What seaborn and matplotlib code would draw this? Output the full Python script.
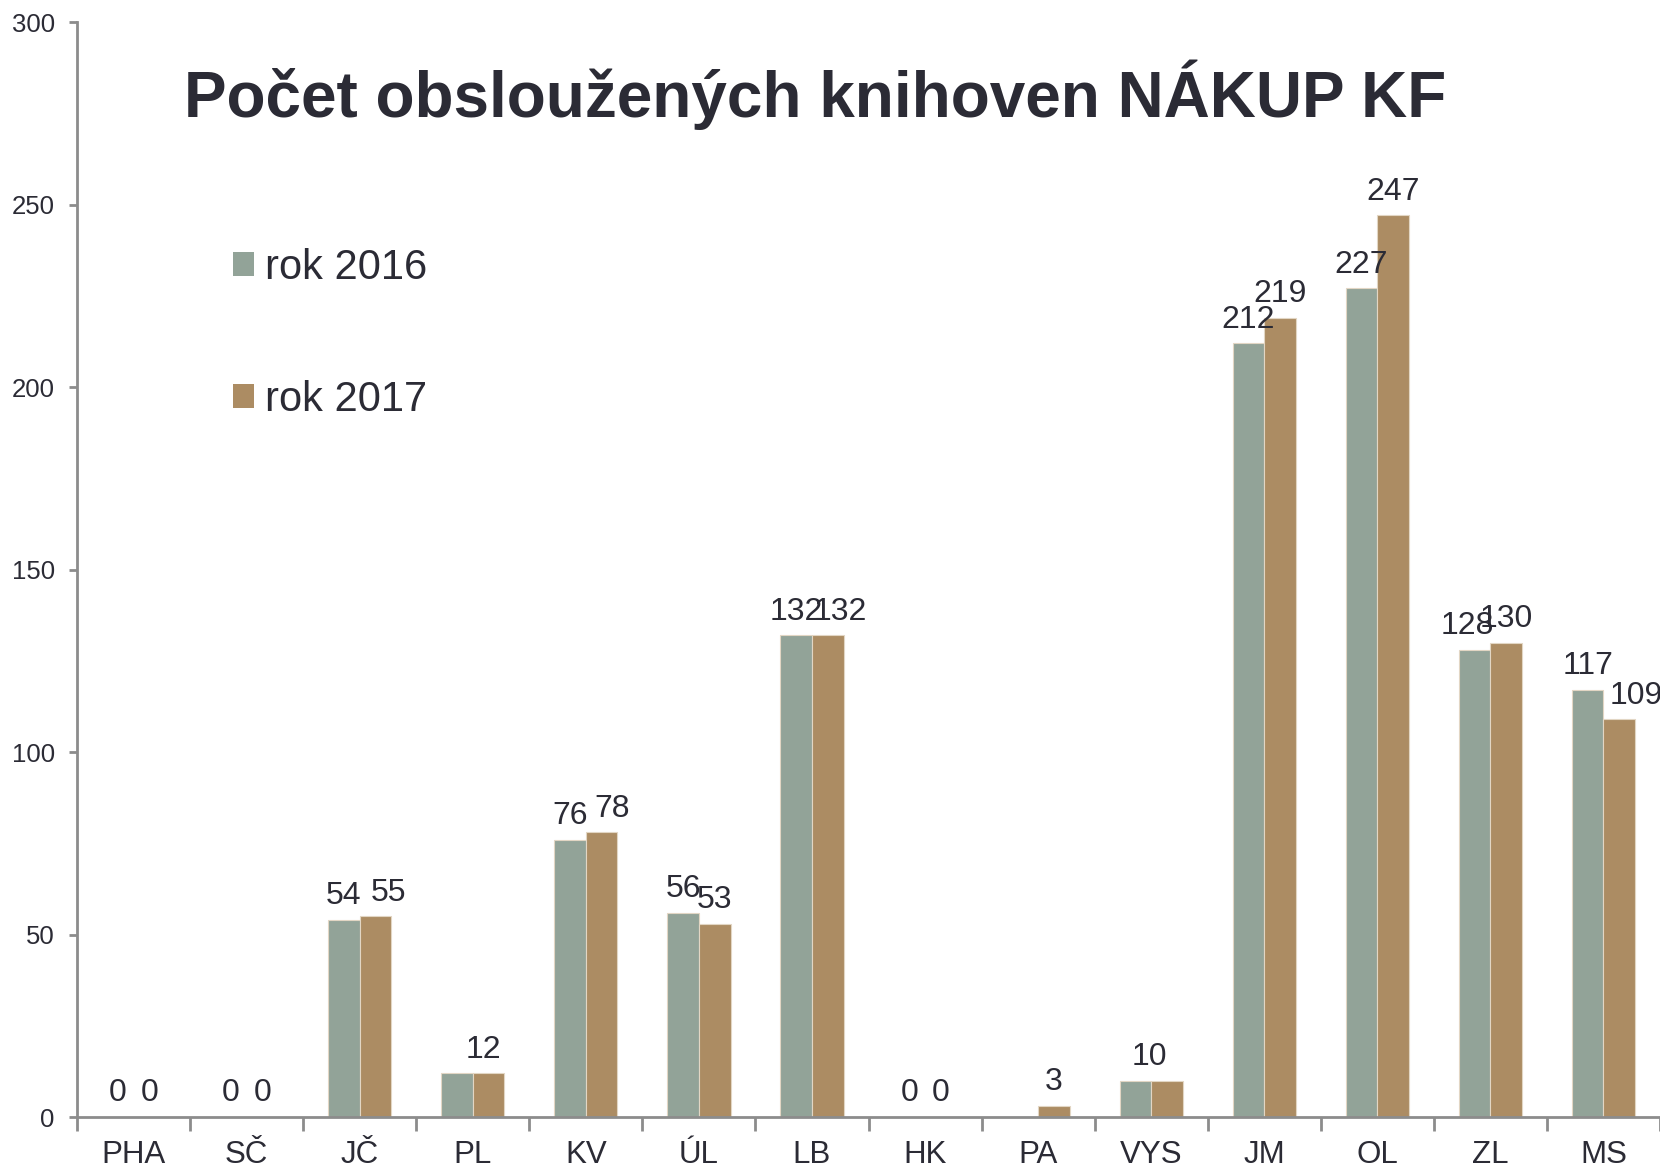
import pandas as pd
import matplotlib.pyplot as plt
import seaborn as sns

# Data
regions = ['PHA', 'SČ', 'JČ', 'PL', 'KV', 'ÚL', 'LB', 'HK', 'PA', 'VYS', 'JM', 'OL', 'ZL', 'MS']
rok_2016 = [0, 0, 54, 12, 76, 56, 132, 0, 0, 10, 212, 227, 128, 117]
rok_2017 = [0, 0, 55, 12, 78, 53, 132, 0, 3, 10, 219, 247, 130, 109]
labels_2016 = ['0', '0', '54', '', '76', '56', '132', '0', '', '10', '212', '227', '128', '117']
labels_2017 = ['0', '0', '55', '12', '78', '53', '132', '0', '3', '', '219', '247', '130', '109']
series = ['rok 2016', 'rok 2017']
colors = ['#92A398', '#AC8C63']
text_color = '#2B2B35'

df = pd.DataFrame({
    'region': regions * 2,
    'value': rok_2016 + rok_2017,
    'rok': [series[0]] * len(regions) + [series[1]] * len(regions),
})

sns.set_style('white')
plt.rcParams['font.family'] = ['Liberation Sans', 'DejaVu Sans']

fig = plt.figure(figsize=(16.6, 11.71), dpi=100)
ax = fig.add_axes([0.0464, 0.0461, 0.9536, 0.9351])

sns.barplot(data=df, x='region', y='value', hue='rok', palette=colors,
            width=0.56, gap=0, edgecolor='#E2D6C4', linewidth=0.8,
            saturation=1, ax=ax)

# value labels, nudged sideways where they would collide (like the original)
nudge = {(1, 'JČ'): 9, (1, 'KV'): 7.5, (1, 'LB'): 9, (0, 'ZL'): -5,
         (1, 'MS'): 12, (1, 'PL'): -4, (0, 'VYS'): 10}
for k, (cont, labs) in enumerate(zip(ax.containers, [labels_2016, labels_2017])):
    for bar, lab, reg in zip(cont, labs, regions):
        if not lab:
            continue
        ax.annotate(lab, (bar.get_x() + bar.get_width() / 2, bar.get_height()),
                    xytext=(nudge.get((k, reg), 0), 17), textcoords='offset points',
                    ha='center', va='center', fontsize=23, color=text_color,
                    annotation_clip=False)

ax.set_ylim(0, 300)
ax.set_xlim(-0.5, len(regions) - 0.5)
ax.set_yticks(range(0, 301, 50))
ax.set_xlabel('')
ax.set_ylabel('')

# spines
for s in ['top', 'right']:
    ax.spines[s].set_visible(False)
for s in ['left', 'bottom']:
    ax.spines[s].set_color('#8C8C8C')
    ax.spines[s].set_linewidth(2)

ax.tick_params(axis='y', left=True, length=6, width=2, color='#8C8C8C',
               pad=10, labelsize=18.5, labelcolor=text_color)
ax.tick_params(axis='x', which='major', bottom=False, length=0, pad=16.5,
               labelsize=22.5, labelcolor=text_color)
ax.set_xticks([i - 0.5 for i in range(len(regions) + 1)], minor=True)
ax.tick_params(axis='x', which='minor', bottom=True, length=10, width=2,
               color='#8C8C8C')

# legend
leg = ax.legend(loc='upper left', bbox_to_anchor=(0.128, 0.806),
                bbox_transform=fig.transFigure, frameon=False,
                fontsize=30, handlelength=0.5, handleheight=0.5,
                handletextpad=0.25, labelspacing=2.2, borderpad=0)
for t in leg.get_texts():
    t.set_color(text_color)
for h in leg.legend_handles:
    h.set_edgecolor('none')

fig.text(0.491, 0.919, 'Počet obsloužených knihoven NÁKUP KF',
         ha='center', va='center', fontsize=46, fontweight='bold',
         color=text_color)

fig.savefig('out.png', dpi=100)
